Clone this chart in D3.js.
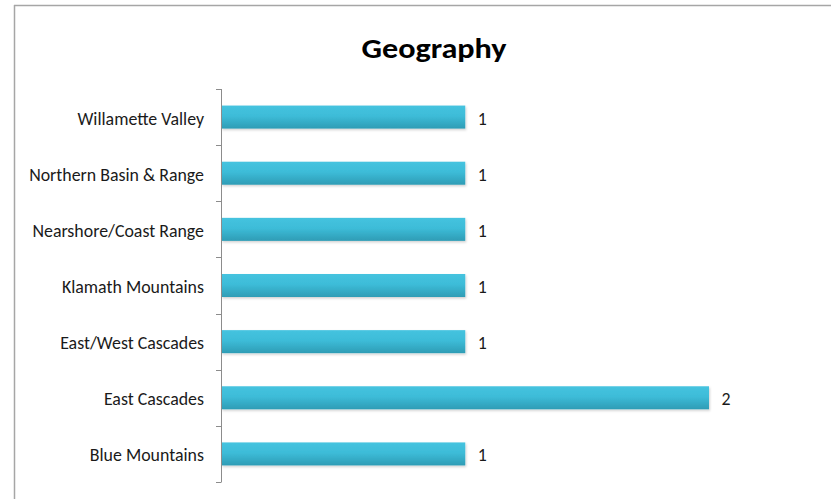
<!DOCTYPE html>
<html><head><meta charset="utf-8">
<script src="https://cdn.jsdelivr.net/npm/d3@7"></script>
<style>body{margin:0;background:#fff}svg{display:block}</style>
</head><body>
<script>
const categories = ["Willamette Valley","Northern Basin & Range","Nearshore/Coast Range","Klamath Mountains","East/West Cascades","East Cascades","Blue Mountains"];
const values = [1,1,1,1,1,2,1];
const title = "Geography";

const W = 831, H = 499;
const svg = d3.select("body").append("svg").attr("width", W).attr("height", H);
const defs = svg.append("defs");
const g1 = defs.append("linearGradient").attr("id","barg").attr("x1",0).attr("y1",0).attr("x2",0).attr("y2",1);
g1.append("stop").attr("offset","0%").attr("stop-color","#45c3df");
g1.append("stop").attr("offset","45%").attr("stop-color","#3dbcd8");
g1.append("stop").attr("offset","100%").attr("stop-color","#2e9cb5");
const f = defs.append("filter").attr("id","sh").attr("x","-5%").attr("y","-20%").attr("width","110%").attr("height","160%");
f.append("feDropShadow").attr("dx",1).attr("dy",1.5).attr("stdDeviation",1).attr("flood-color","#000").attr("flood-opacity",0.18);

// frame
svg.append("line").attr("x1",14.5).attr("x2",14.5).attr("y1",5).attr("y2",H).attr("stroke","#a6a6a6").attr("stroke-width",1.5);
svg.append("line").attr("x1",14).attr("x2",W).attr("y1",5.5).attr("y2",5.5).attr("stroke","#a6a6a6").attr("stroke-width",1.5);

const font = "Carlito, 'Open Sans', 'Noto Sans', sans-serif";

svg.append("text").attr("x",434).attr("y",58).attr("text-anchor","middle")
  .attr("font-family",font).attr("font-weight","bold").attr("font-size",29)
  .attr("textLength",145).attr("lengthAdjust","spacingAndGlyphs")
  .attr("fill","#000").text(title);

const x = d3.scaleLinear().domain([0,2]).range([221.5,709]);
const y = d3.scaleBand().domain(categories).range([89,482]).paddingInner(0.59).paddingOuter(0.295);

svg.append("g").selectAll("rect").data(categories).join("rect")
  .attr("x", x(0)).attr("y", d=>y(d)).attr("height", y.bandwidth())
  .attr("width", (d,i)=>x(values[i])-x(0))
  .attr("fill","url(#barg)").attr("filter","url(#sh)");

// axis
const ax = svg.append("g").attr("stroke","#8c8c8c").attr("stroke-width",1);
ax.append("line").attr("x1",x(0)).attr("x2",x(0)).attr("y1",89).attr("y2",482);
const bounds = categories.map(d=>y(d)-y.step()*y.paddingInner()/2).concat([482]);
ax.selectAll("line.t").data(bounds).join("line").attr("class","t")
  .attr("x1",x(0)-5.5).attr("x2",x(0)).attr("y1",d=>Math.round(d)+0.5).attr("y2",d=>Math.round(d)+0.5);

const lab = svg.append("g").attr("font-family",font).attr("fill","#1a1a1a");
const catT = lab.selectAll("text.c").data(categories).join("text").attr("class","c")
  .attr("x",204).attr("y",d=>y(d)+y.bandwidth()/2+7.5).attr("text-anchor","end")
  .attr("font-size",15).text(d=>d);
// fit label font so the longest label matches the reference width
const longest = d3.max(catT.nodes(), n=>n.getComputedTextLength());
const fs = 15*175/longest;
catT.attr("font-size",fs);

lab.selectAll("text.v").data(values).join("text").attr("class","v")
  .attr("x",v=>x(v)+12.5).attr("y",(v,i)=>y(categories[i])+y.bandwidth()/2+7.5)
  .attr("font-size",fs).text(v=>v);
</script>
</body></html>
